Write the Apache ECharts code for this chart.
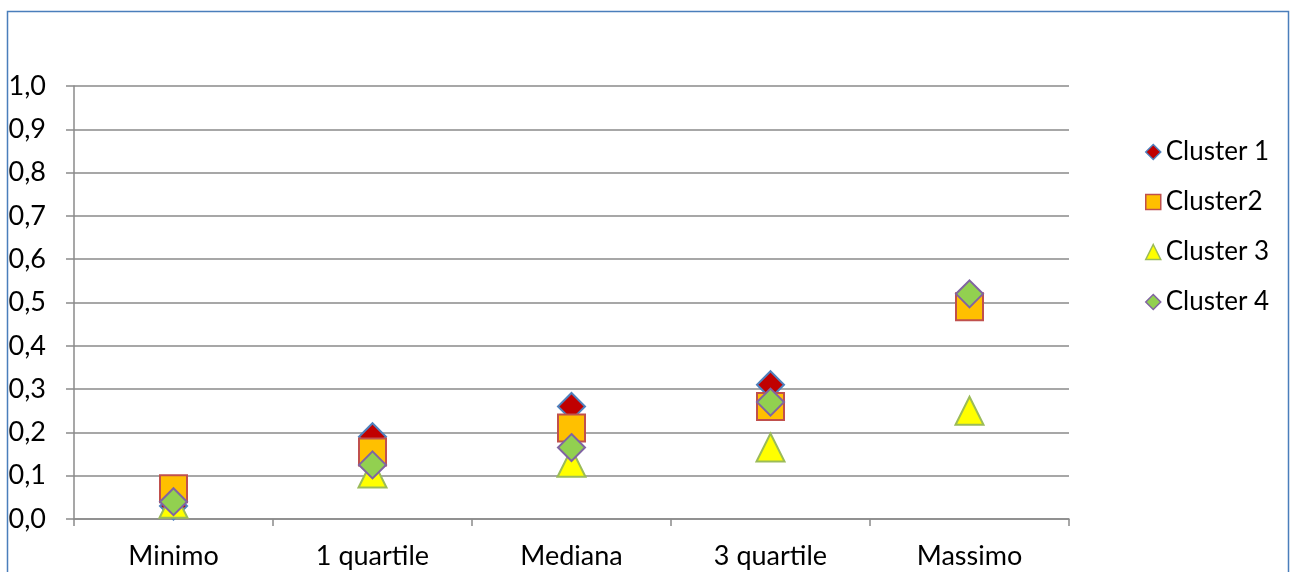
<!DOCTYPE html>
<html>
<head>
<meta charset="utf-8">
<script src="https://cdn.jsdelivr.net/npm/echarts@6/dist/echarts.min.js"></script>
<style>
  html, body { margin: 0; padding: 0; background: #fff; }
  #chart { width: 1293px; height: 572px; }
</style>
</head>
<body>
<div id="chart"></div>
<script>
// Statistics per cluster (min, quartiles, median, max)
const categories = ['Minimo', '1 quartile', 'Mediana', '3 quartile', 'Massimo'];
const cluster1 = [0.03, 0.19, 0.26, 0.31, 0.50];
const cluster2 = [0.07, 0.155, 0.21, 0.26, 0.49];
const cluster3 = [0.035, 0.105, 0.13, 0.165, 0.25];
const cluster4 = [0.04, 0.125, 0.165, 0.27, 0.52];
const seriesNames = ['Cluster 1', 'Cluster2', 'Cluster 3', 'Cluster 4'];

const FONT = 'Lato, "Open Sans", sans-serif';
const GRID_COLOR = '#8a8a8a';

const styles = [
  { symbol: 'diamond', fill: '#C00000', stroke: '#4F81BD' },
  { symbol: 'rect', fill: '#FFC000', stroke: '#C0504D' },
  { symbol: 'triangle', fill: '#FFFF00', stroke: '#9BBB59' },
  { symbol: 'diamond', fill: '#92D050', stroke: '#8064A2' }
];
const values = [cluster1, cluster2, cluster3, cluster4];

const chart = echarts.init(document.getElementById('chart'), null, { renderer: 'canvas' });

chart.setOption({
  animation: false,
  backgroundColor: '#fff',
  graphic: [{
    type: 'rect',
    shape: { x: 7.5, y: 11.5, width: 1281, height: 600 },
    style: { fill: 'none', stroke: '#4A7EBB', lineWidth: 1.5 },
    silent: true
  }],
  grid: { left: 74, right: 224, top: 86, bottom: 53 },
  legend: {
    orient: 'vertical',
    left: 1140,
    top: 134,
    itemGap: 24,
    itemWidth: 15,
    itemHeight: 15,
    textStyle: { fontFamily: FONT, fontSize: 26, color: '#000', padding: [0, 0, 0, 0] },
    data: seriesNames.map((n, i) => ({
      name: n,
      icon: styles[i].symbol,
      itemStyle: { color: styles[i].fill, borderColor: styles[i].stroke, borderWidth: 1.5 }
    }))
  },
  xAxis: {
    type: 'category',
    data: categories,
    boundaryGap: true,
    axisLine: { lineStyle: { color: GRID_COLOR, width: 1.5 } },
    axisTick: { show: true, length: 7, alignWithLabel: false, lineStyle: { color: GRID_COLOR, width: 1.5 } },
    axisLabel: { fontFamily: FONT, fontSize: 27, color: '#000', margin: 24 },
    splitLine: { show: false }
  },
  yAxis: {
    type: 'value',
    min: 0,
    max: 1,
    interval: 0.1,
    axisLine: { show: true, lineStyle: { color: GRID_COLOR, width: 1.5 } },
    axisTick: { show: true, length: 8, lineStyle: { color: GRID_COLOR, width: 1.5 } },
    axisLabel: {
      fontFamily: FONT, fontSize: 27, color: '#000', margin: 28,
      formatter: v => v.toFixed(1).replace('.', ',')
    },
    splitLine: { show: true, lineStyle: { color: GRID_COLOR, width: 1.5 } }
  },
  series: values.map((vals, i) => ({
    name: seriesNames[i],
    type: 'scatter',
    data: vals,
    symbol: styles[i].symbol,
    symbolSize: styles[i].symbol === 'triangle' ? [28, 28] : 27,
    z: 2 + i,
    itemStyle: {
      color: styles[i].fill,
      borderColor: styles[i].stroke,
      borderWidth: 2,
      opacity: 1
    }
  }))
});
</script>
</body>
</html>
